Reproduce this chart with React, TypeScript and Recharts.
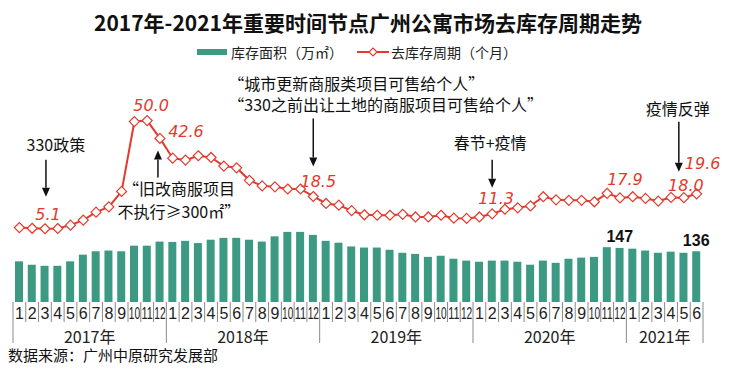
import { Bar, ComposedChart, LabelList, Line, XAxis, YAxis } from "recharts";

const years = ["2017年", "2018年", "2019年", "2020年", "2021年"];
const monthsInYear = [12, 12, 12, 12, 6];

// 库存面积（万㎡）
const inventory = [
  109, 100, 97, 97, 109, 127, 136, 138, 136, 151, 151, 162,
  161, 164, 158, 167, 172, 172, 167, 162, 176, 188, 188, 180,
  164, 159, 149, 146, 146, 140, 132, 129, 121, 124, 116, 111,
  108, 111, 111, 108, 100, 111, 105, 116, 119, 121, 147, 145,
  143, 138, 132, 135, 132, 136,
];

// 去库存周期（个月）
const period = [
  5.6, 5.3, 5.1, 5.2, 6.6, 8.7, 12.0, 14.2, 20.6, 49.6, 50.0, 42.6,
  34.4, 33.6, 35.4, 34.7, 31.1, 30.4, 25.2, 22.9, 22.5, 21.6, 21.6, 18.5,
  15.6, 14.9, 12.6, 10.9, 10.7, 10.7, 11.1, 10.0, 10.0, 10.7, 9.5, 9.4,
  10.0, 11.3, 13.2, 13.8, 14.6, 18.4, 17.1, 16.9, 16.9, 16.3, 19.8, 17.9,
  18.4, 17.7, 16.6, 18.1, 18.0, 19.6,
];

const periodLabelIdx = [2, 10, 11, 23, 37, 47, 52, 53];
const inventoryLabelIdx = [46, 53];

const notes = [
  { idx: 2, lines: ["330政策"] },
  { idx: 11, lines: ["“旧改商服项目", "不执行≥300㎡”"] },
  { idx: 23, lines: ["“城市更新商服类项目可售给个人”", "“330之前出让土地的商服项目可售给个人”"] },
  { idx: 37, lines: ["春节+疫情"] },
  { idx: 52, lines: ["疫情反弹"] },
];

const rows = years
  .flatMap((year, yi) =>
    Array.from({ length: monthsInYear[yi] }, (_, m) => ({ year, month: String(m + 1), span: monthsInYear[yi] }))
  )
  .map((r, i) => ({ ...r, key: i, inventory: inventory[i], period: period[i] }));

const W = 736;
const H = 370;
const PLOT_LEFT = 13;
const PLOT_RIGHT = 703;
const BW = (PLOT_RIGHT - PLOT_LEFT) / rows.length;

const GREEN = "#3d9a82";
const RED = "#e4392c";
const CJK = "'Noto Sans CJK SC', sans-serif";

// label / note placement, relative to the point
const valuePos: Record<number, [number, number]> = {
  2: [3, -9],
  10: [4, -10],
  11: [26, -1],
  23: [5, -9],
  37: [4, -10],
  47: [5, -13],
  52: [2, -7],
  53: [6, -25],
};

const notePos: Record<number, { dx: number; dy: number[]; anchor: string; ax: number; a1: number; a2: number }> = {
  2: { dx: 11, dy: [-78], anchor: "middle", ax: 1, a1: -69, a2: -32 },
  11: { dx: 19, dy: [57, 80], anchor: "middle", ax: -2, a1: 39, a2: 12 },
  23: { dx: -85, dy: [-106, -85], anchor: "start", ax: 0, a1: -78, a2: -30 },
  37: { dx: -2, dy: [-65], anchor: "middle", ax: 0, a1: -54, a2: -26 },
  52: { dx: -6, dy: [-83], anchor: "middle", ax: -5, a1: -76, a2: -26 },
};

function Arrow({ x, y1, y2 }: { x: number; y1: number; y2: number }) {
  const dir = y2 > y1 ? 1 : -1;
  const tipBase = y2 - dir * 9;
  return (
    <g>
      <line x1={x} x2={x} y1={y1} y2={tipBase} stroke="#111" strokeWidth={1.5} />
      <path d={`M${x - 4},${tipBase}L${x + 4},${tipBase}L${x},${y2}Z`} fill="#111" />
    </g>
  );
}

function MonthTick(props: any) {
  const { x, y, payload } = props;
  const i = payload.value as number;
  const r = rows[i];
  const left = x - BW / 2;
  const yearStart = r.month === "1";
  const twoDigit = r.month.length > 1;
  return (
    <g>
      <line x1={left} x2={left} y1={y} y2={y + (yearStart ? 41 : 20)} stroke="#8a8a8a" strokeWidth={1} />
      {i === rows.length - 1 && (
        <line x1={x + BW / 2} x2={x + BW / 2} y1={y} y2={y + 41} stroke="#8a8a8a" strokeWidth={1} />
      )}
      <text
        x={x}
        y={y + 17}
        textAnchor="middle"
        fontSize={16}
        fontFamily="'Liberation Sans', Arial"
        fill="#222"
        {...(twoDigit ? { textLength: BW - 1.5, lengthAdjust: "spacingAndGlyphs" } : {})}
      >
        {r.month}
      </text>
      {yearStart && (
        <text
          x={left + (r.span * BW) / 2}
          y={y + 41}
          textAnchor="middle"
          fontSize={16}
          fontFamily={CJK}
          fill="#222"
        >
          {r.year}
        </text>
      )}
    </g>
  );
}

function Diamond(p: any) {
  const { cx, cy, index } = p;
  if (cx == null || cy == null) return <g key={index} />;
  const s = 5;
  return (
    <path
      key={index}
      d={`M${cx},${cy - s}L${cx + s},${cy}L${cx},${cy + s}L${cx - s},${cy}Z`}
      fill="#fff"
      stroke={RED}
      strokeWidth={1.2}
    />
  );
}

function PeriodLabel(p: any) {
  const { x, y, value, index } = p;
  if (!periodLabelIdx.includes(index)) return null;
  const pos = valuePos[index];
  return (
    <text
      x={x + pos[0]}
      y={y + pos[1]}
      textAnchor="middle"
      fontSize={16}
      fontStyle="italic"
      fontFamily="'DejaVu Sans', sans-serif"
      fill={RED}
    >
      {Number(value).toFixed(1)}
    </text>
  );
}

function NoteLabel(p: any) {
  const { x, y, index } = p;
  const note = notes.find((n) => n.idx === index);
  if (!note) return null;
  const pos = notePos[index];
  return (
    <g>
      {note.lines.map((t, k) => (
        <text
          key={k}
          x={x + pos.dx}
          y={y + pos.dy[k]}
          textAnchor={pos.anchor as any}
          fontSize={16}
          fontFamily={CJK}
          fill="#111"
        >
          {t}
        </text>
      ))}
      <Arrow x={x + pos.ax} y1={y + pos.a1} y2={y + pos.a2} />
    </g>
  );
}

function InventoryLabel(p: any) {
  const { x, y, width, value, index } = p;
  if (!inventoryLabelIdx.includes(index)) return null;
  const dx = index === 46 ? 13 : 0;
  return (
    <text
      x={x + width / 2 + dx}
      y={y - 5}
      textAnchor="middle"
      fontSize={16}
      fontWeight="bold"
      fontFamily="'Liberation Sans', Arial"
      fill="#111"
    >
      {value}
    </text>
  );
}

export default function App() {
  return (
    <div style={{ position: "absolute", left: 0, top: 0, width: W, height: H, background: "#fff", fontFamily: CJK }}>
      <div
        style={{
          position: "absolute",
          top: 8,
          left: 0,
          width: W,
          textAlign: "center",
          fontSize: 21,
          fontWeight: 700,
          color: "#111",
          lineHeight: "28px",
        }}
      >
        2017年-2021年重要时间节点广州公寓市场去库存周期走势
      </div>
      <div
        style={{
          position: "absolute",
          top: 42,
          left: 197,
          display: "flex",
          alignItems: "center",
          fontSize: 14,
          color: "#222",
          lineHeight: "20px",
        }}
      >
        <span style={{ display: "inline-block", width: 30, height: 6, background: GREEN, marginRight: 4 }} />
        <span>库存面积（万㎡）</span>
        <svg width={32} height={12} style={{ marginLeft: 14, marginRight: 2 }}>
          <line x1={0} x2={32} y1={6} y2={6} stroke={RED} strokeWidth={2} />
          <path d="M16,2L20,6L16,10L12,6Z" fill="#fff" stroke={RED} strokeWidth={1.2} />
        </svg>
        <span>去库存周期（个月）</span>
      </div>
      <ComposedChart
        width={W}
        height={H}
        data={rows}
        margin={{ top: 70, right: W - PLOT_RIGHT, bottom: 8, left: PLOT_LEFT }}
        style={{ position: "absolute", left: 0, top: 0 }}
      >
        <XAxis
          dataKey="key"
          interval={0}
          axisLine={false}
          tickLine={false}
          tickSize={0}
          tickMargin={0}
          height={60}
          tick={MonthTick}
        />
        <YAxis yAxisId="inv" hide domain={[0, 622]} allowDataOverflow />
        <YAxis yAxisId="per" hide orientation="right" domain={[-25.3, 71]} allowDataOverflow />
        <Bar yAxisId="inv" dataKey="inventory" fill={GREEN} barSize={8} isAnimationActive={false}>
          <LabelList dataKey="inventory" content={InventoryLabel} />
        </Bar>
        <Line
          yAxisId="per"
          dataKey="period"
          stroke={RED}
          strokeWidth={2}
          dot={Diamond}
          activeDot={false}
          isAnimationActive={false}
        >
          <LabelList dataKey="period" content={PeriodLabel} />
          <LabelList dataKey="period" content={NoteLabel} />
        </Line>
      </ComposedChart>
      <div style={{ position: "absolute", left: 8, top: 344, fontSize: 15, color: "#111", lineHeight: "22px" }}>
        数据来源：广州中原研究发展部
      </div>
    </div>
  );
}
